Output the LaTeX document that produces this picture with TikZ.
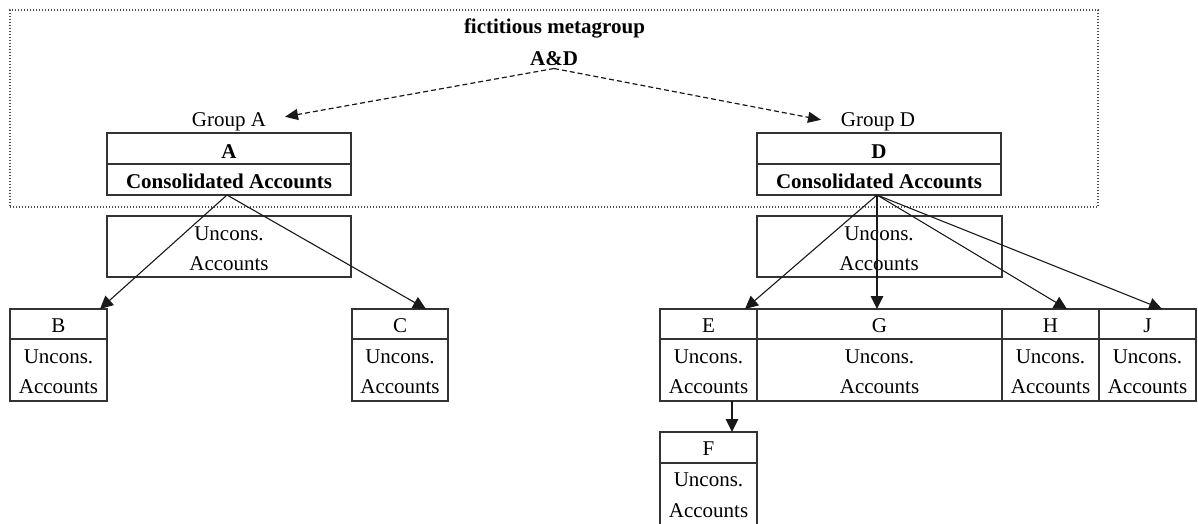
\documentclass[tikz,border=0pt]{standalone}
\usepackage{fontspec}
\setmainfont{Liberation Serif}
\usetikzlibrary{arrows.meta}
\tikzset{
  boxst/.style={draw=black!80, line width=1.4pt, inner sep=0pt, outer sep=0pt, anchor=north west},
  boxline/.style={draw=black!80, line width=1.4pt},
  txt/.style={inner sep=0pt, text height=14pt, text depth=0pt, font=\fontsize{21}{25}\selectfont},
  conn/.style={draw=black!90, line width=1.1pt, -{Triangle[length=13pt,width=12.5pt]}},
  dconn/.style={draw=black!90, line width=1.2pt, dash pattern=on 5pt off 3pt, -{Triangle[length=13pt,width=11pt]}},
  metabox/.style={draw=black!70, line width=1.2pt, dash pattern=on 1.3pt off 1.7pt}
}
\newcommand\leafbox[5]{% name, left x, width, top y, letter
  \node[boxst, minimum width=#3pt, minimum height=92pt] (#1) at (#2,#4) {};
  \draw[boxline] ([yshift=-30pt]#1.north west) -- ([yshift=-30pt]#1.north east);
  \node[txt] (#1-l) at ([yshift=-16.5pt]#1.north) {#5};
  \node[txt] (#1-u) at ([yshift=-47pt]#1.north) {Uncons.};
  \node[txt] (#1-a) at ([yshift=-77.5pt]#1.north) {Accounts};
}
\begin{document}
\begin{tikzpicture}[x=1pt,y=-1pt]
\useasboundingbox (0,0) rectangle (1198,524);
% meta group
\node[metabox, inner sep=0pt, outer sep=0pt, minimum width=1088pt, minimum height=197pt, anchor=north west] (meta) at (10,10) {};
\node[txt, font=\fontsize{21}{25}\selectfont\bfseries] (metatitle) at (554.5,27) {fictitious metagroup};
\node[txt, font=\fontsize{21}{25}\selectfont\bfseries] (AD) at (554,59) {A\&D};
\coordinate (ADs) at (554,68.5);
% group A
\node[txt] (grpA) at (229,119) {Group A};
\node[boxst, minimum width=244pt, minimum height=62pt] (Abox) at (107,133) {};
\draw[boxline] ([yshift=-31pt]Abox.north west) -- ([yshift=-31pt]Abox.north east);
\node[txt, font=\fontsize{21}{25}\selectfont\bfseries] (Al) at (229,151) {A};
\node[txt, font=\fontsize{21}{25}\selectfont\bfseries] (Acons) at (229,181) {Consolidated Accounts};
\node[boxst, minimum width=244pt, minimum height=61pt] (Aunc) at (107,216) {};
\node[txt] (Aunc-u) at (229,233) {Uncons.};
\node[txt] (Aunc-a) at (229,263) {Accounts};
% group D
\node[txt] (grpD) at (878,119) {Group D};
\node[boxst, minimum width=244pt, minimum height=62pt] (Dbox) at (757,133) {};
\draw[boxline] ([yshift=-31pt]Dbox.north west) -- ([yshift=-31pt]Dbox.north east);
\node[txt, font=\fontsize{21}{25}\selectfont\bfseries] (Dl) at (879,151) {D};
\node[txt, font=\fontsize{21}{25}\selectfont\bfseries] (Dcons) at (879,181) {Consolidated Accounts};
\node[boxst, minimum width=245pt, minimum height=61pt] (Dunc) at (757,216) {};
\node[txt] (Dunc-u) at (879,233) {Uncons.};
\node[txt] (Dunc-a) at (879,263) {Accounts};
% leaves
\leafbox{B}{10}{97}{309}{B}
\leafbox{C}{352}{96}{309}{C}
\leafbox{E}{660}{97}{309}{E}
\leafbox{G}{757}{245}{309}{G}
\leafbox{H}{1002}{97}{309}{H}
\leafbox{J}{1099}{97}{309}{J}
\node[boxst, minimum width=97pt, minimum height=95pt] (F) at (660,432) {};
\draw[boxline] ([yshift=-31pt]F.north west) -- ([yshift=-31pt]F.north east);
\node[txt] (F-l) at (708.5,448.5) {F};
\node[txt] (F-u) at (708.5,479) {Uncons.};
\node[txt] (F-a) at (708.5,510) {Accounts};
% connectors
\draw[dconn] (ADs) -- ([xshift=56pt,yshift=-5pt]grpA.north);
\draw[dconn] (ADs) -- ([xshift=-57pt,yshift=-8pt]grpD.north);
\coordinate (Ao) at (227,195);
\draw[conn] (Ao) -- ([xshift=41.5pt]B.north);
\draw[conn] (Ao) -- ([xshift=26pt]C.north);
\coordinate (Do) at (877,195);
\draw[conn] (Do) -- ([xshift=36.5pt]E.north);
\draw[conn] (Do) -- ([xshift=-2.5pt]G.north);
\draw[conn] (Do) -- ([xshift=16.5pt]H.north);
\draw[conn] (Do) -- ([xshift=14.5pt]J.north);
\draw[conn] ([xshift=23.5pt]E.south) -- ([xshift=23.5pt]F.north);
\end{tikzpicture}
\end{document}
